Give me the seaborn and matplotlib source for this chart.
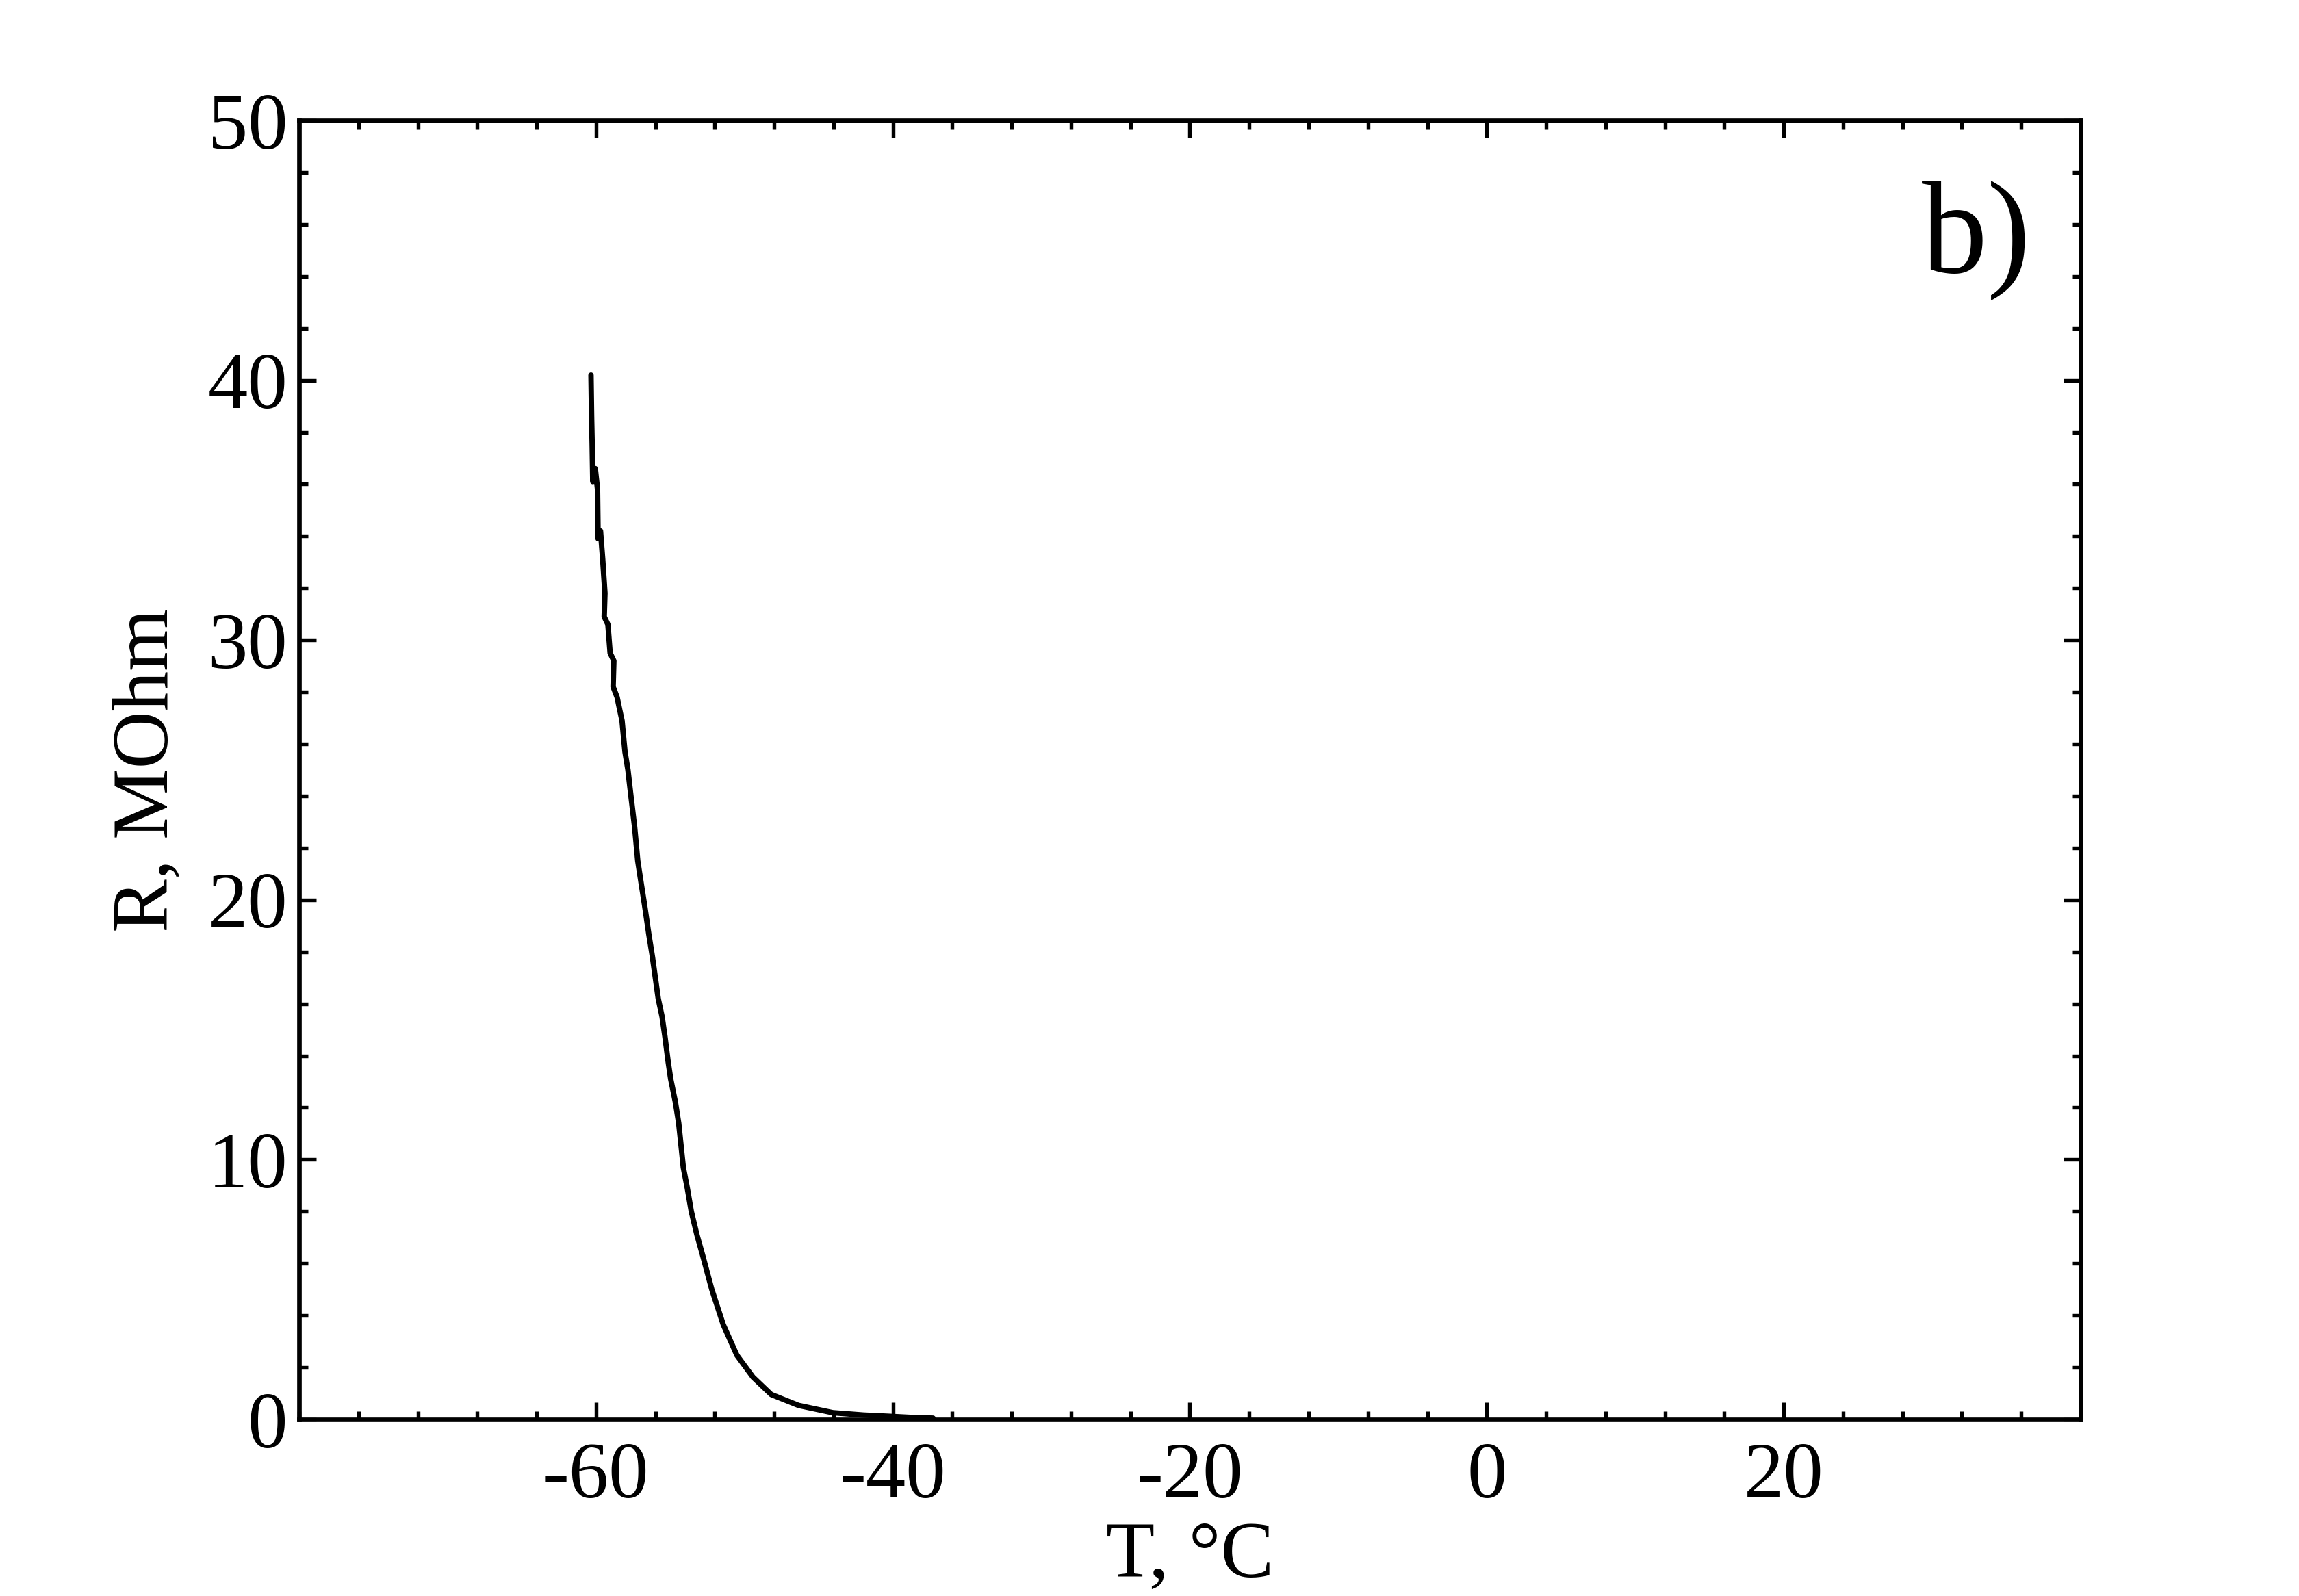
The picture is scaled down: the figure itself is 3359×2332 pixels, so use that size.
import numpy as np
import pandas as pd
import matplotlib
matplotlib.use("Agg")
import matplotlib.pyplot as plt
import seaborn as sns
from matplotlib.ticker import MultipleLocator, FixedLocator

# ---- data ----
temperature = [-60.34, -60.30, -60.26, -60.22, -60.05, -59.90, -59.86, -59.70, -59.55, -59.40,
               -59.45, -59.20, -59.05, -58.80, -58.85, -58.58, -58.40, -58.25, -58.05, -57.85,
               -57.65, -57.40, -57.19, -56.95, -56.73, -56.45, -56.20, -55.98, -55.81, -55.55,
               -55.35, -55.15, -54.97, -54.65, -54.43, -54.12, -53.85, -53.58, -53.20, -52.81,
               -52.20, -51.43, -50.51, -49.43, -48.20, -46.36, -44.05, -42.0, -40.2, -38.5,
               -37.3]
resistance = [40.2, 38.6, 37.5, 36.1, 36.6, 35.8, 33.9, 34.2, 33.1, 31.8,
              30.9, 30.6, 29.5, 29.2, 28.2, 27.8, 27.3, 26.9, 25.7, 25.0,
              24.0, 22.8, 21.5, 20.6, 19.8, 18.7, 17.8, 16.9, 16.2, 15.5,
              14.7, 13.8, 13.1, 12.2, 11.4, 9.7, 8.9, 8.0, 7.1, 6.3,
              5.0, 3.65, 2.47, 1.63, 0.96, 0.54, 0.26, 0.17, 0.12, 0.07,
              0.05]
x_ticks = [-60, -40, -20, 0, 20]
y_ticks = [0, 10, 20, 30, 40, 50]
x_label = "T, °C"
y_label = "R, MOhm"
panel_label = "b)"

df = pd.DataFrame({"T": temperature, "R": resistance})

sns.set_theme(style="ticks")
plt.rcParams["font.family"] = ["Liberation Serif", "DejaVu Serif"]

W, H = 3359, 2332
dpi = 300
fig = plt.figure(figsize=(W / dpi, H / dpi), dpi=dpi)
ax = fig.add_axes([437 / W, 1 - 2074 / H, (3040 - 437) / W, (2074 - 176) / H])

sns.lineplot(data=df, x="T", y="R", sort=False, estimator=None,
             color="black", linewidth=1.9, ax=ax)

ax.set_xlim(-80, 40)
ax.set_ylim(0, 50)
ax.xaxis.set_major_locator(FixedLocator(x_ticks))
ax.xaxis.set_minor_locator(MultipleLocator(4))
ax.yaxis.set_major_locator(FixedLocator(y_ticks))
ax.yaxis.set_minor_locator(MultipleLocator(2))
ax.set_xticklabels([str(v) for v in x_ticks])
ax.set_yticklabels([str(v) for v in y_ticks])

for s in ax.spines.values():
    s.set_visible(True)
    s.set_linewidth(1.6)
    s.set_color("black")

ax.tick_params(which="both", direction="in", top=True, right=True,
               color="black", width=1.3, labelsize=28, labelcolor="black")
ax.tick_params(which="major", length=6)
ax.tick_params(which="minor", length=3)
ax.tick_params(axis="x", which="major", pad=8)
ax.tick_params(axis="y", which="major", pad=4)

ax.set_xlabel(x_label, fontsize=28, labelpad=2, color="black")
ax.set_ylabel(y_label, fontsize=28, labelpad=8, color="black")

ax.text(0.911, 0.883, panel_label, transform=ax.transAxes, fontsize=46,
        ha="left", va="baseline", color="black")

ax.grid(False)
fig.patch.set_facecolor("white")
ax.set_facecolor("white")

fig.savefig("out.png", dpi=dpi, facecolor="white")
